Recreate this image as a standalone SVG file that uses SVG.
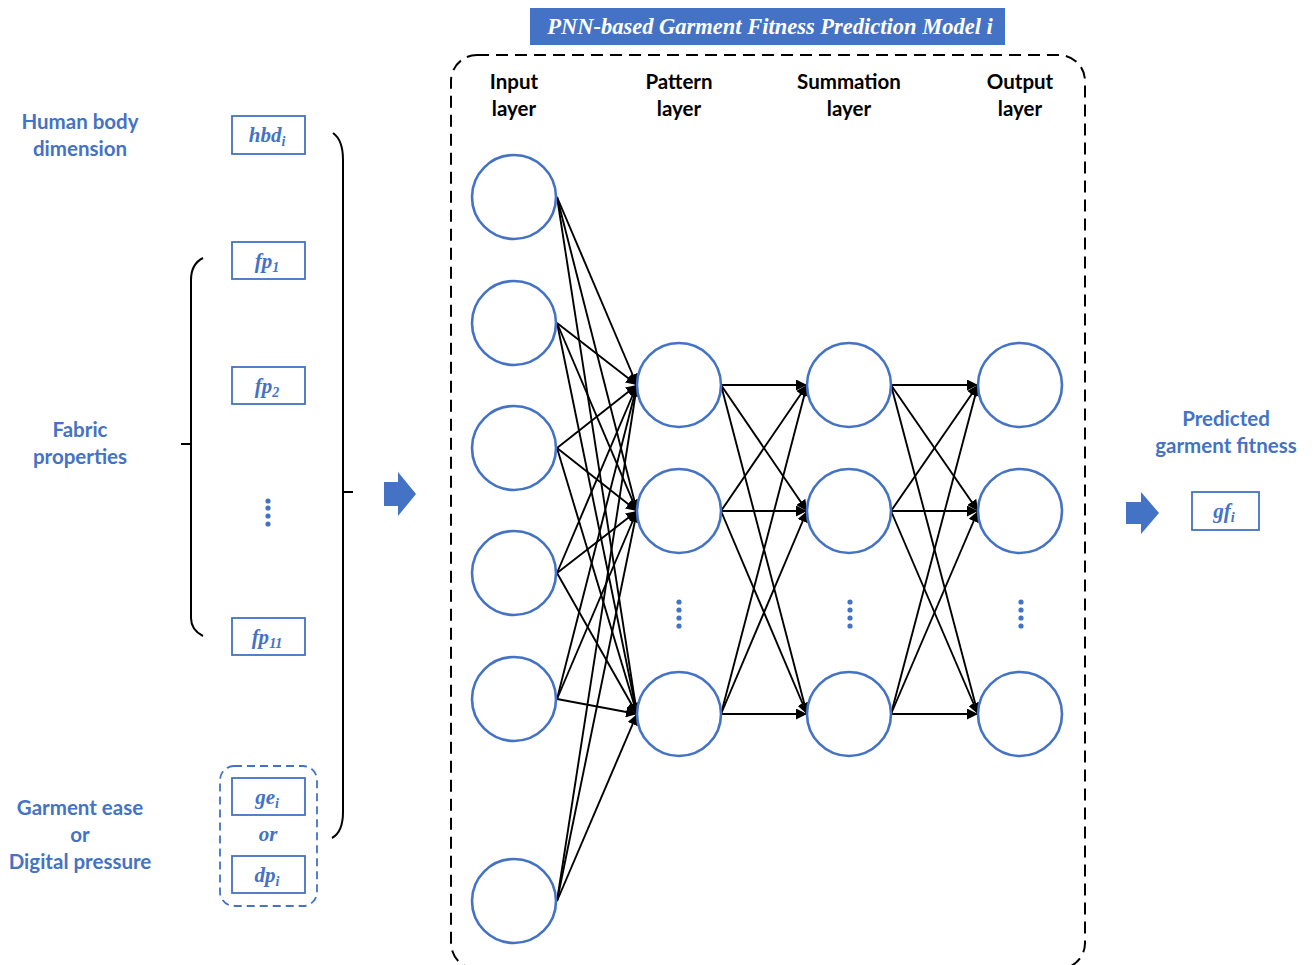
<svg xmlns="http://www.w3.org/2000/svg" width="1313" height="965" viewBox="0 0 1313 965">
<defs>
<marker id="ah" viewBox="0 0 10 10" refX="10" refY="5" markerWidth="11" markerHeight="11" markerUnits="userSpaceOnUse" orient="auto"><path d="M0,0 L10,5 L0,10 z" fill="#000"/></marker>
</defs>
<style>
.node{fill:#fff;stroke:#4472C4;stroke-width:2.6}
.box{fill:#fff;stroke:#4472C4;stroke-width:1.8}
.lbl{font-family:"Lato","Open Sans","Liberation Sans",sans-serif;font-weight:bold;font-size:20.5px;fill:#4472C4;text-anchor:middle}
.hdr{font-family:"Lato","Open Sans","Liberation Sans",sans-serif;font-weight:bold;font-size:20.5px;fill:#000;text-anchor:middle}
.var{font-family:"Liberation Serif",serif;font-style:italic;font-weight:bold;font-size:21px;fill:#4472C4;text-anchor:middle}
.sub{font-size:14px}
.dot{fill:#4472C4}
.edge{stroke:#000;stroke-width:1.9;fill:none;marker-end:url(#ah)}
.brace{stroke:#000;stroke-width:2;fill:none}
</style>
<rect width="1313" height="965" fill="#fff"/>

<g id="title">
<rect x="530" y="8" width="475" height="37" fill="#4472C4"/>
<text x="770" y="34" font-family="Liberation Serif,serif" font-style="italic" font-weight="bold" font-size="22.5" fill="#fff" text-anchor="middle">PNN-based Garment Fitness Prediction Model i</text>
</g>

<g id="frame">
<rect x="451" y="55" width="634" height="914" rx="26" fill="none" stroke="#000" stroke-width="2" stroke-dasharray="12,7"/>
</g>

<g id="layer-headers">
<text class="hdr" x="514" y="89">Input</text><text class="hdr" x="514" y="116">layer</text>
<text class="hdr" x="679" y="89">Pattern</text><text class="hdr" x="679" y="116">layer</text>
<text class="hdr" x="849" y="89">Summation</text><text class="hdr" x="849" y="116">layer</text>
<text class="hdr" x="1020" y="89">Output</text><text class="hdr" x="1020" y="116">layer</text>
</g>

<g id="left-labels">
<text class="lbl" x="80" y="129">Human body</text><text class="lbl" x="80" y="156">dimension</text>
<text class="lbl" x="80" y="437">Fabric</text><text class="lbl" x="80" y="464">properties</text>
<text class="lbl" x="80" y="815">Garment ease</text><text class="lbl" x="80" y="842">or</text><text class="lbl" x="80" y="869">Digital pressure</text>
</g>

<g id="right-label">
<text class="lbl" x="1226" y="426">Predicted</text><text class="lbl" x="1226" y="453">garment fitness</text>
</g>

<g id="connectors">
<line class="edge" x1="557" y1="197" x2="637" y2="385"/><line class="edge" x1="557" y1="197" x2="637" y2="511"/><line class="edge" x1="557" y1="197" x2="637" y2="714"/>
<line class="edge" x1="557" y1="323" x2="637" y2="385"/><line class="edge" x1="557" y1="323" x2="637" y2="511"/><line class="edge" x1="557" y1="323" x2="637" y2="714"/>
<line class="edge" x1="557" y1="448" x2="637" y2="385"/><line class="edge" x1="557" y1="448" x2="637" y2="511"/><line class="edge" x1="557" y1="448" x2="637" y2="714"/>
<line class="edge" x1="557" y1="573" x2="637" y2="385"/><line class="edge" x1="557" y1="573" x2="637" y2="511"/><line class="edge" x1="557" y1="573" x2="637" y2="714"/>
<line class="edge" x1="557" y1="699" x2="637" y2="385"/><line class="edge" x1="557" y1="699" x2="637" y2="511"/><line class="edge" x1="557" y1="699" x2="637" y2="714"/>
<line class="edge" x1="557" y1="901" x2="637" y2="385"/><line class="edge" x1="557" y1="901" x2="637" y2="511"/><line class="edge" x1="557" y1="901" x2="637" y2="714"/>
<line class="edge" x1="721" y1="385" x2="807" y2="385"/><line class="edge" x1="721" y1="385" x2="807" y2="511"/><line class="edge" x1="721" y1="385" x2="807" y2="714"/>
<line class="edge" x1="721" y1="511" x2="807" y2="385"/><line class="edge" x1="721" y1="511" x2="807" y2="511"/><line class="edge" x1="721" y1="511" x2="807" y2="714"/>
<line class="edge" x1="721" y1="714" x2="807" y2="385"/><line class="edge" x1="721" y1="714" x2="807" y2="511"/><line class="edge" x1="721" y1="714" x2="807" y2="714"/>
<line class="edge" x1="891" y1="385" x2="978" y2="385"/><line class="edge" x1="891" y1="385" x2="978" y2="511"/><line class="edge" x1="891" y1="385" x2="978" y2="714"/>
<line class="edge" x1="891" y1="511" x2="978" y2="385"/><line class="edge" x1="891" y1="511" x2="978" y2="511"/><line class="edge" x1="891" y1="511" x2="978" y2="714"/>
<line class="edge" x1="891" y1="714" x2="978" y2="385"/><line class="edge" x1="891" y1="714" x2="978" y2="511"/><line class="edge" x1="891" y1="714" x2="978" y2="714"/>
</g>

<g id="input-nodes">
<circle class="node" cx="514" cy="197" r="42"/>
<circle class="node" cx="514" cy="323" r="42"/>
<circle class="node" cx="514" cy="448" r="42"/>
<circle class="node" cx="514" cy="573" r="42"/>
<circle class="node" cx="514" cy="699" r="42"/>
<circle class="node" cx="514" cy="901" r="42"/>
</g>
<g id="pattern-nodes">
<circle class="node" cx="679" cy="385" r="42"/>
<circle class="node" cx="679" cy="511" r="42"/>
<circle class="node" cx="679" cy="714" r="42"/>
<circle class="dot" cx="679" cy="602" r="2.6"/><circle class="dot" cx="679" cy="610" r="2.6"/><circle class="dot" cx="679" cy="618" r="2.6"/><circle class="dot" cx="679" cy="626" r="2.6"/>
</g>
<g id="summation-nodes">
<circle class="node" cx="849" cy="385" r="42"/>
<circle class="node" cx="849" cy="511" r="42"/>
<circle class="node" cx="849" cy="714" r="42"/>
<circle class="dot" cx="850" cy="602" r="2.6"/><circle class="dot" cx="850" cy="610" r="2.6"/><circle class="dot" cx="850" cy="618" r="2.6"/><circle class="dot" cx="850" cy="626" r="2.6"/>
</g>
<g id="output-nodes">
<circle class="node" cx="1020" cy="385" r="42"/>
<circle class="node" cx="1020" cy="511" r="42"/>
<circle class="node" cx="1020" cy="714" r="42"/>
<circle class="dot" cx="1021" cy="602" r="2.6"/><circle class="dot" cx="1021" cy="610" r="2.6"/><circle class="dot" cx="1021" cy="618" r="2.6"/><circle class="dot" cx="1021" cy="626" r="2.6"/>
</g>

<g id="hbd">
<rect class="box" x="232" y="116" width="73" height="38"/>
<text class="var" x="267" y="142">hbd<tspan class="sub" dy="4">i</tspan></text>
</g>
<g id="fp1">
<rect class="box" x="232" y="242" width="73" height="37"/>
<text class="var" x="267" y="268">fp<tspan class="sub" dy="4">1</tspan></text>
</g>
<g id="fp2">
<rect class="box" x="232" y="367" width="73" height="37"/>
<text class="var" x="267" y="393">fp<tspan class="sub" dy="4">2</tspan></text>
</g>
<g id="fp-dots">
<circle class="dot" cx="268" cy="501" r="2.6"/><circle class="dot" cx="268" cy="508" r="2.6"/><circle class="dot" cx="268" cy="516" r="2.6"/><circle class="dot" cx="268" cy="524" r="2.6"/>
</g>
<g id="fp11">
<rect class="box" x="232" y="618" width="73" height="37"/>
<text class="var" x="267" y="644">fp<tspan class="sub" dy="4">11</tspan></text>
</g>
<g id="ge-dp">
<rect x="220" y="766" width="97" height="140" rx="14" fill="none" stroke="#4472C4" stroke-width="1.8" stroke-dasharray="8,5"/>
<rect class="box" x="232" y="778" width="73" height="37"/>
<text class="var" x="267" y="804">ge<tspan class="sub" dy="4">i</tspan></text>
<text class="var" x="268" y="841">or</text>
<rect class="box" x="232" y="856" width="73" height="37"/>
<text class="var" x="267" y="882">dp<tspan class="sub" dy="4">i</tspan></text>
</g>
<g id="gf">
<rect class="box" x="1192" y="492" width="67" height="38"/>
<text class="var" x="1224" y="518">gf<tspan class="sub" dy="4">i</tspan></text>
</g>

<g id="braces">
<path class="brace" d="M333,133 Q343,140 343,160 L343,812 Q343,832 332,838"/>
<line class="brace" x1="343" y1="492" x2="353" y2="492"/>
<path class="brace" d="M203,258 Q191,264 191,280 L191,618 Q191,630 203,636"/>
<line class="brace" x1="181" y1="444" x2="191" y2="444"/>
</g>

<g id="block-arrows">
<path d="M384,482 L398,482 L398,472 L416,494 L398,516 L398,506 L384,506 z" fill="#4472C4"/>
<path d="M1126,502 L1141,502 L1141,492 L1159,513 L1141,534 L1141,524 L1126,524 z" fill="#4472C4"/>
</g>
</svg>
